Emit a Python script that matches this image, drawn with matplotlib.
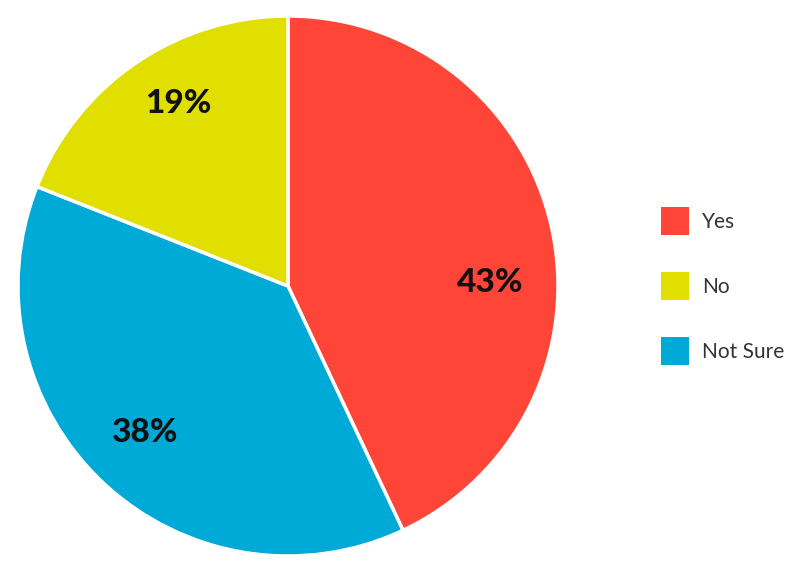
import matplotlib.pyplot as plt
import numpy as np

labels = ["Yes", "Not Sure", "No"]
shares = [43, 38, 19]
colors = ["#FF4438", "#00AAD6", "#E0DF00"]
legend_order = ["Yes", "No", "Not Sure"]

# label spots as (angle in deg, radius fraction)
label_pos = {"Yes": (1, 0.75), "Not Sure": (225.6, 0.76), "No": (121, 0.79)}

W, H = 796, 569
fig = plt.figure(figsize=(W / 100, H / 100), dpi=100)

cx, cy, r = 288, 286, 270
ax = fig.add_axes([(cx - r) / W, (H - cy - r) / H, 2 * r / W, 2 * r / H])

wedges, _ = ax.pie(shares, colors=colors, startangle=90, counterclock=False,
                   radius=1, wedgeprops=dict(edgecolor="white", linewidth=2.5))
ax.set_xlim(-1, 1)
ax.set_ylim(-1, 1)
ax.set_aspect("equal")
ax.axis("off")

for lab, val in zip(labels, shares):
    a, d = label_pos[lab]
    t = np.radians(a)
    ax.text(d * np.cos(t), d * np.sin(t), f"{val}%", ha="center", va="center",
            fontsize=24, fontweight="black", color="#111111",
            family=["Lato", "DejaVu Sans"])

handles = [wedges[labels.index(n)] for n in legend_order]
proxies = [plt.Rectangle((0, 0), 1, 1, facecolor=h.get_facecolor(), edgecolor="none")
           for h in handles]
leg = fig.legend(proxies, legend_order, loc="upper left",
                 bbox_to_anchor=(661 / W, 1 - 207 / H), frameon=False,
                 prop=dict(family=["Lato", "DejaVu Sans"], size=15),
                 handlelength=1.34, handleheight=1.67, labelspacing=1.8,
                 handletextpad=0.62, borderpad=0, borderaxespad=0)
for txt in leg.get_texts():
    txt.set_color("#333333")

fig.savefig("out.png", dpi=100)
